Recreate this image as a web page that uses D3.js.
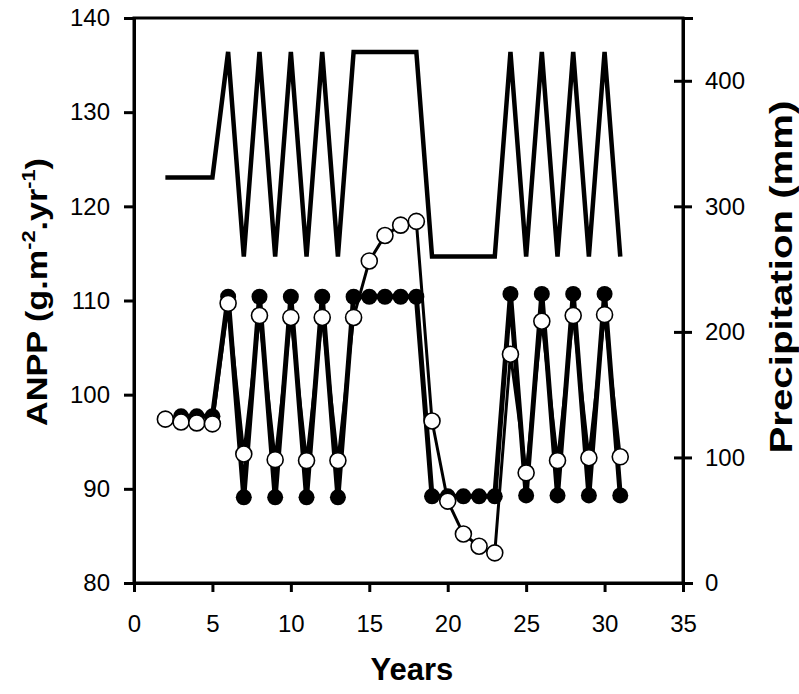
<!DOCTYPE html>
<html><head><meta charset="utf-8">
<script src="https://cdn.jsdelivr.net/npm/d3@7"></script>
<style>body{margin:0;background:#fff}svg{display:block}text{font-family:"Liberation Sans",Arial,sans-serif}</style>
</head><body><svg id="c" width="799" height="694"></svg>
<script>
const years = [2,3,4,5,6,7,8,9,10,11,12,13,14,15,16,17,18,19,20,21,22,23,24,25,26,27,28,29,30,31];
const precip = [323,323,323,323,423,260,423,260,423,260,423,260,423,423,423,423,423,260,260,260,260,260,423,260,423,260,423,260,423,260];
const filledYears = years.slice(1);
const anppFilled = [97.7,97.7,97.7,110.4,89.1,110.4,89.1,110.4,89.1,110.4,89.1,110.4,110.4,110.4,110.4,110.4,89.2,89.2,89.2,89.2,89.2,110.7,89.3,110.7,89.3,110.7,89.3,110.7,89.3];
const anppOpen = [97.4,97.1,97.0,96.9,109.7,93.7,108.4,93.1,108.2,93.0,108.2,93.0,108.2,114.2,116.9,118.0,118.4,97.2,88.7,85.2,83.9,83.2,104.3,91.7,107.8,93.0,108.4,93.3,108.5,93.4];
const xTicks = [0,5,10,15,20,25,30,35];
const yLeftTicks = [80,90,100,110,120,130,140];
const yRightTicks = [0,100,200,300,400];

const svg = d3.select("#c");
const L=134,R=683,T=18,B=583;
const x = d3.scaleLinear().domain([0,35]).range([L,R]);
const yL = d3.scaleLinear().domain([80,140]).range([B,T]);
const yR = d3.scaleLinear().domain([0,450]).range([B,T]);

svg.append("rect").attr("x",L).attr("y",T).attr("width",R-L).attr("height",B-T)
  .attr("fill","none").attr("stroke","#000").attr("stroke-width",3);

const fs = "24px";
const gx = svg.append("g").attr("transform",`translate(0,${B})`)
  .call(d3.axisBottom(x).tickValues(xTicks).tickSize(9).tickPadding(23));
const gl = svg.append("g").attr("transform",`translate(${L},0)`)
  .call(d3.axisLeft(yL).tickValues(yLeftTicks).tickSize(10).tickPadding(14));
const gr = svg.append("g").attr("transform",`translate(${R},0)`)
  .call(d3.axisRight(yR).tickValues(yRightTicks).tickSize(10).tickPadding(12));
[gx,gl,gr].forEach(g=>{
  g.select(".domain").attr("stroke","#000").attr("stroke-width",3);
  g.selectAll(".tick line").attr("stroke","#000").attr("stroke-width",3);
  g.selectAll(".tick text").attr("font-size",fs).attr("fill","#000").attr("font-family","Liberation Sans, Arial, sans-serif");
});
gr.selectAll(".tick line").attr("x1",-9).attr("x2",9);
gr.selectAll(".tick text").attr("x",22);

svg.append("path").datum(years.map((d,i)=>[d,precip[i]]))
  .attr("fill","none").attr("stroke","#000").attr("stroke-width",4.5).attr("stroke-linejoin","miter").attr("stroke-miterlimit",2.5)
  .attr("d",d3.line().x(d=>x(d[0])).y(d=>yR(d[1])));

svg.append("path").datum(filledYears.map((d,i)=>[d,anppFilled[i]]))
  .attr("fill","none").attr("stroke","#000").attr("stroke-width",5).attr("stroke-linejoin","round")
  .attr("d",d3.line().x(d=>x(d[0])).y(d=>yL(d[1])));
svg.append("g").selectAll("circle").data(filledYears.map((d,i)=>[d,anppFilled[i]])).join("circle")
  .attr("cx",d=>x(d[0])).attr("cy",d=>yL(d[1])).attr("r",8).attr("fill","#000");

svg.append("path").datum(years.map((d,i)=>[d,anppOpen[i]]))
  .attr("fill","none").attr("stroke","#000").attr("stroke-width",3).attr("stroke-linejoin","round")
  .attr("d",d3.line().x(d=>x(d[0])).y(d=>yL(d[1])));
svg.append("g").selectAll("circle").data(years.map((d,i)=>[d,anppOpen[i]])).join("circle")
  .attr("cx",d=>x(d[0])).attr("cy",d=>yL(d[1])).attr("r",8).attr("fill","#fff").attr("stroke","#000").attr("stroke-width",1.6);

function fitScale(t, tx, ty, target){
  const len = t.node().getComputedTextLength();
  t.attr("transform",`translate(${tx},${ty}) rotate(-90) scale(${(target/len).toFixed(3)},1)`);
}
const tl = svg.append("text").attr("text-anchor","middle").attr("font-size","30px").attr("font-weight","bold");
tl.append("tspan").text("ANPP (g.m");
tl.append("tspan").attr("dy",-12).attr("font-size","19px").text("-2");
tl.append("tspan").attr("dy",12).text(".yr");
tl.append("tspan").attr("dy",-12).attr("font-size","19px").text("-1");
tl.append("tspan").attr("dy",12).text(")");
fitScale(tl, 47, 292, 268);

const tr = svg.append("text").attr("text-anchor","middle").attr("font-size","32px").attr("font-weight","bold").text("Precipitation (mm)");
fitScale(tr, 792, 277, 353);
svg.append("text").attr("x",412).attr("y",680).attr("text-anchor","middle")
  .attr("font-size","31px").attr("font-weight","bold").text("Years");
</script></body></html>
